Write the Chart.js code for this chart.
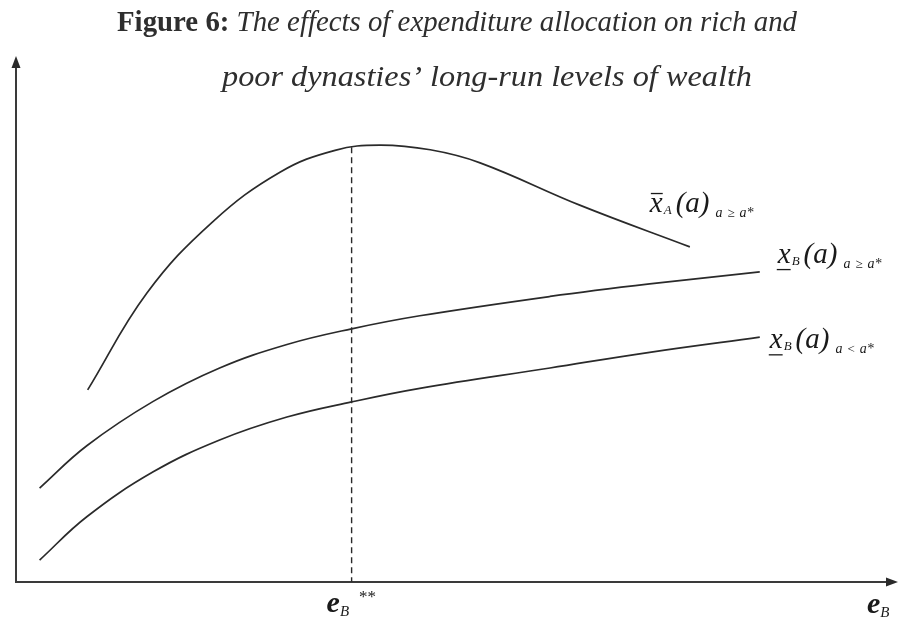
<!DOCTYPE html>
<html>
<head>
<meta charset="utf-8">
<script src="https://cdn.jsdelivr.net/npm/chart.js@4.4.1/dist/chart.umd.min.js"></script>
<style>
  html, body { margin: 0; padding: 0; background: #fff; }
  #wrap { width: 899px; height: 618px; position: relative; }
</style>
</head>
<body>
<div id="wrap"><canvas id="grafico"></canvas></div>
<script>
// curvas de riqueza de largo plazo segun e_B (unidades arbitrarias 0-10)
var xRicoA  = [0.82, 1.50, 2.25, 3.02, 3.65, 4.16, 4.74, 5.31, 6.45, 7.71];
var yRicoA  = [3.68, 5.54, 6.90, 7.85, 8.27, 8.37, 8.28, 8.03, 7.22, 6.42];

var xPobreB = [0.27, 0.81, 1.57, 2.33, 3.10, 3.84, 4.62, 6.11, 7.25, 8.51];
var yAltoB  = [1.80, 2.61, 3.46, 4.10, 4.55, 4.85, 5.10, 5.47, 5.71, 5.94];
var yBajoB  = [0.42, 1.25, 2.11, 2.72, 3.16, 3.45, 3.71, 4.10, 4.40, 4.69];

// e_B** : punto donde la curva de los ricos llega a su maximo
var eEstrella = 3.84;
var yEstrella = 8.33;

var tituloLineas = [
    { negrita: 'Figure 6: ', italica: 'The effects of expenditure allocation on rich and' },
    { negrita: '', italica: 'poor dynasties\u2019 long-run levels of wealth' }
];

function puntos(xs, ys) {
    return xs.map(function (x, i) { return { x: x, y: ys[i] }; });
}

var serif = '"Liberation Serif", "Times New Roman", serif';
var colorLinea = '#2a2a2a';

// dibuja un texto compuesto por trozos (tamaños, subindices, barras)
function textoRico(ctx, x, y, trozos) {
    trozos.forEach(function (t) {
        ctx.font = t.font;
        var w = ctx.measureText(t.text).width;
        var dx = t.dx || 0;
        ctx.fillText(t.text, x + dx, y + (t.dy || 0));
        if (t.sobre) {
            ctx.fillRect(x + dx + 1, y - 19, w - 1, 1.3);
        }
        if (t.bajo) {
            ctx.fillRect(x + dx - 1, y + 6, w + 1, 1.3);
        }
        x += dx + w;
    });
}

function etiquetaX(sub, rel, barra) {
    var fSub = 'italic 14px ' + serif;
    var t = [
        { text: 'x', font: 'italic 29px ' + serif },
        { text: sub, font: 'italic 13px ' + serif, dy: 2, dx: 1 },
        { text: '(a)', font: 'italic 29px ' + serif, dx: 4 },
        { text: 'a', font: fSub, dy: 5, dx: 6 },
        { text: rel, font: '13px ' + serif, dy: 5, dx: 5 },
        { text: 'a*', font: fSub, dy: 5, dx: 5 }
    ];
    t[0][barra] = true;
    return t;
}

var ejesYTextos = {
    id: 'ejesYTextos',
    afterDatasetsDraw: function (chart) {
        var ctx = chart.ctx;
        var sx = chart.scales.x, sy = chart.scales.y;
        var x0 = sx.getPixelForValue(0), y0 = sy.getPixelForValue(0);
        var area = chart.chartArea;

        ctx.save();
        // ejes con flecha
        ctx.strokeStyle = '#3a3a3a';
        ctx.fillStyle = '#2a2a2a';
        ctx.lineWidth = 2;
        ctx.beginPath();
        ctx.moveTo(x0, y0 + 1);
        ctx.lineTo(x0, area.top + 8);
        ctx.moveTo(x0 - 1, y0);
        ctx.lineTo(area.right, y0);
        ctx.stroke();
        ctx.beginPath();
        ctx.moveTo(x0, area.top - 4);
        ctx.lineTo(x0 - 4.5, area.top + 8);
        ctx.lineTo(x0 + 4.5, area.top + 8);
        ctx.closePath();
        ctx.fill();
        ctx.beginPath();
        ctx.moveTo(area.right + 8, y0);
        ctx.lineTo(area.right - 4, y0 - 4.5);
        ctx.lineTo(area.right - 4, y0 + 4.5);
        ctx.closePath();
        ctx.fill();

        // linea punteada en e_B**
        var xe = sx.getPixelForValue(eEstrella);
        ctx.strokeStyle = colorLinea;
        ctx.lineWidth = 1.4;
        ctx.setLineDash([6, 4]);
        ctx.beginPath();
        ctx.moveTo(xe, sy.getPixelForValue(yEstrella));
        ctx.lineTo(xe, y0);
        ctx.stroke();
        ctx.setLineDash([]);

        // textos
        ctx.fillStyle = '#1a1a1a';
        ctx.textBaseline = 'alphabetic';
        ctx.textAlign = 'left';

        var n = xRicoA.length - 1;
        textoRico(ctx, sx.getPixelForValue(xRicoA[n]) - 40, sy.getPixelForValue(yRicoA[n]) - 35,
            etiquetaX('A', '\u2265', 'sobre'));
        var m = xPobreB.length - 1;
        textoRico(ctx, sx.getPixelForValue(xPobreB[m]) + 18, sy.getPixelForValue(yAltoB[m]) - 9,
            etiquetaX('B', '\u2265', 'bajo'));
        textoRico(ctx, sx.getPixelForValue(xPobreB[m]) + 10, sy.getPixelForValue(yBajoB[m]) + 11,
            etiquetaX('B', '<', 'bajo'));

        // etiquetas del eje horizontal
        textoRico(ctx, xe - 25, y0 + 30, [
            { text: 'e', font: 'italic bold 30px ' + serif },
            { text: 'B', font: 'italic 15px ' + serif, dy: 4 },
            { text: '**', font: '17px ' + serif, dx: 10, dy: -10 }
        ]);
        textoRico(ctx, area.right - 23, y0 + 31, [
            { text: 'e', font: 'italic bold 30px ' + serif },
            { text: 'B', font: 'italic 15px ' + serif, dy: 4 }
        ]);

        // titulo en dos lineas
        var inicio = [117, 222], ancho = [680, 530], base = [31, 86];
        tituloLineas.forEach(function (l, i) {
            var fN = 'bold 30px ' + serif, fI = 'italic 30px ' + serif;
            ctx.font = fN; var wN = ctx.measureText(l.negrita).width;
            ctx.font = fI; var wI = ctx.measureText(l.italica).width;
            var k = ancho[i] / (wN + wI);
            ctx.save();
            ctx.translate(inicio[i], base[i]);
            ctx.scale(k, 1);
            ctx.fillStyle = '#2e2e2e';
            ctx.font = fN; ctx.fillText(l.negrita, 0, 0);
            ctx.font = fI; ctx.fillText(l.italica, wN, 0);
            ctx.restore();
        });
        ctx.restore();
    }
};

var estiloCurva = {
    borderColor: colorLinea,
    borderWidth: 1.7,
    pointRadius: 0,
    fill: false,
    showLine: true,
    tension: 0.4
};

new Chart(document.getElementById('grafico'), {
    type: 'scatter',
    data: {
        datasets: [
            Object.assign({ label: 'xA rico', data: puntos(xRicoA, yRicoA) }, estiloCurva),
            Object.assign({ label: 'xB alto', data: puntos(xPobreB, yAltoB) }, estiloCurva),
            Object.assign({ label: 'xB bajo', data: puntos(xPobreB, yBajoB) }, estiloCurva)
        ]
    },
    options: {
        responsive: true,
        maintainAspectRatio: false,
        animation: false,
        layout: { padding: { left: 16, right: 9, top: 60, bottom: 36 } },
        scales: {
            x: { type: 'linear', min: 0, max: 10, display: false },
            y: { type: 'linear', min: 0, max: 10, display: false }
        },
        plugins: {
            legend: { display: false },
            tooltip: { enabled: false },
            title: { display: false }
        }
    },
    plugins: [ejesYTextos]
});
</script>
</body>
</html>
